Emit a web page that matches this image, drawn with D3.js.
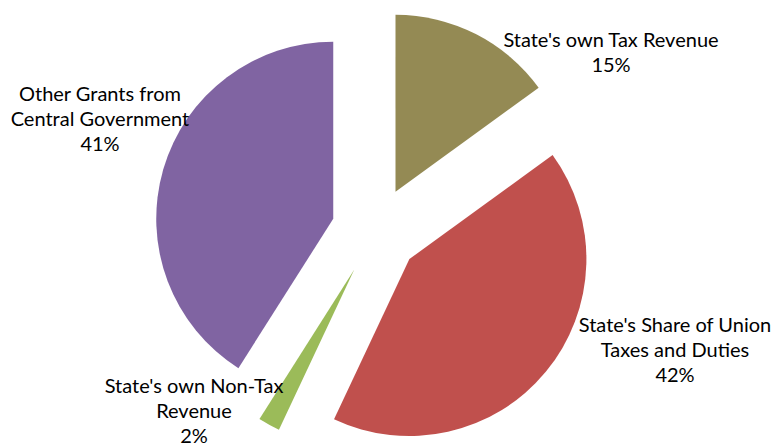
<!DOCTYPE html>
<html>
<head>
<meta charset="utf-8">
<script src="https://cdn.jsdelivr.net/npm/d3@7"></script>
<style>
  body { margin: 0; background: #fff; }
  svg { display: block; }
  .lbl { font-family: Lato, "Open Sans", sans-serif; font-size: 20px; fill: #000; }
</style>
</head>
<body>
<svg id="chart" width="774" height="444"></svg>
<script>
// data
const categories = [
  "State's own Tax Revenue",
  "State's Share of Union Taxes and Duties",
  "State's own Non-Tax Revenue",
  "Other Grants from Central Government"
];
const shares = [15, 42, 2, 41];
const colors = ['#948A54', '#C0504D', '#9BBB59', '#8064A2'];
// how each label is broken into lines
const labelLines = [
  ["State's own Tax Revenue"],
  ["State's Share of Union", 'Taxes and Duties'],
  ["State's own Non-Tax", 'Revenue'],
  ['Other Grants from', 'Central Government']
];
// label anchor (centre x, first baseline y)
const labelPos = [[611, 47], [675, 332], [194, 393], [100, 101]];

const svg = d3.select('#chart');
const cx = 375.5;
const cy = 231;
const radius = 177;
const explode = 44;
const lineH = 25;

const pie = d3.pie().sort(null).value(d => d);
const arc = d3.arc().innerRadius(0).outerRadius(radius);

const arcs = pie(shares);

const g = svg.append('g').attr('transform', `translate(${cx},${cy})`);

g.selectAll('path')
  .data(arcs)
  .enter()
  .append('path')
  .attr('d', arc)
  .attr('fill', (d, i) => colors[i])
  .attr('transform', (d) => {
    const mid = (d.startAngle + d.endAngle) / 2;
    return `translate(${Math.sin(mid) * explode},${-Math.cos(mid) * explode})`;
  });

// labels: category lines + percentage
const labels = svg.append('g')
  .selectAll('text')
  .data(arcs)
  .enter()
  .append('text')
  .attr('class', 'lbl')
  .attr('text-anchor', 'middle')
  .attr('x', (d, i) => labelPos[i][0])
  .attr('y', (d, i) => labelPos[i][1]);

labels.each(function (d, i) {
  const t = d3.select(this);
  const lines = labelLines[i].concat([`${d.data}%`]);
  lines.forEach((line, j) => {
    t.append('tspan')
      .attr('x', labelPos[i][0])
      .attr('dy', j === 0 ? 0 : lineH)
      .text(line);
  });
});
</script>
</body>
</html>
